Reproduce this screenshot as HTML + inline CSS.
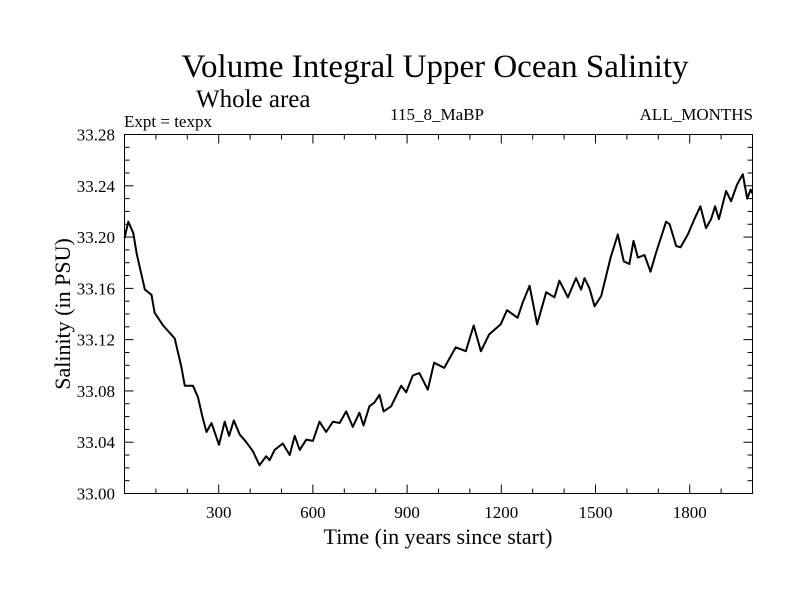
<!DOCTYPE html>
<html><head><meta charset="utf-8"><style>
body{margin:0;background:#fff;}
svg text{font-family:"Liberation Serif",serif;fill:#000;}
</style></head><body>
<svg id="chart" width="800" height="600" xmlns="http://www.w3.org/2000/svg">
<text x="435" y="77" font-size="33" text-anchor="middle">Volume Integral Upper Ocean Salinity</text>
<text x="196" y="107" font-size="25">Whole area</text>
<text x="124" y="127" font-size="17">Expt = texpx</text>
<text x="437" y="120" font-size="17" text-anchor="middle">115_8_MaBP</text>
<text x="753" y="120" font-size="17" text-anchor="end">ALL_MONTHS</text>
<text x="438" y="544" font-size="22" text-anchor="middle">Time (in years since start)</text>
<text transform="translate(70,314) rotate(-90)" font-size="22" text-anchor="middle">Salinity (in PSU)</text>
<g id="axes"></g>
<path id="line" fill="none" stroke="#000" stroke-width="2" stroke-linejoin="round"/>
<rect x="124.5" y="134.5" width="628" height="359" fill="none" stroke="#000" stroke-width="1"/>
</svg>
<script>
const years=[0,12,28,39,49,65,86,96,123,160,181,192,218,234,248,261,277,301,319,333,348,367,388,409,430,451,462,478,504,526,542,558,579,600,621,642,664,685,706,727,748,761,780,796,812,825,849,881,897,918,939,966,986,1018,1055,1087,1112,1135,1161,1198,1218,1252,1268,1290,1314,1343,1369,1385,1412,1438,1454,1465,1481,1497,1518,1548,1571,1590,1608,1621,1635,1656,1675,1693,1725,1736,1757,1771,1794,1815,1834,1852,1868,1881,1893,1916,1932,1951,1969,1983,1994,2000];
const salinity=[33.199,33.212,33.203,33.187,33.176,33.159,33.155,33.141,33.131,33.121,33.099,33.084,33.084,33.075,33.060,33.048,33.055,33.038,33.056,33.045,33.057,33.046,33.040,33.033,33.022,33.029,33.026,33.034,33.039,33.030,33.045,33.034,33.042,33.041,33.056,33.048,33.056,33.055,33.064,33.052,33.063,33.053,33.068,33.071,33.077,33.064,33.068,33.084,33.079,33.092,33.094,33.081,33.102,33.098,33.114,33.111,33.131,33.111,33.124,33.132,33.143,33.137,33.149,33.162,33.132,33.157,33.153,33.166,33.153,33.168,33.159,33.168,33.160,33.146,33.154,33.184,33.202,33.181,33.179,33.197,33.184,33.186,33.173,33.188,33.212,33.210,33.193,33.192,33.202,33.214,33.224,33.207,33.214,33.224,33.214,33.236,33.228,33.241,33.249,33.230,33.237,33.234];
const xTicks=[300,600,900,1200,1500,1800];
const yTicks=[33.00,33.04,33.08,33.12,33.16,33.20,33.24,33.28];
const X0=124.5,X1=752.5,Y0=493.5,Y1=134.5;
function xs(v){return X0+(v-0)/(2000-0)*(X1-X0);}
function ys(v){return Y0-(v-33.0)/(0.28)*(Y0-Y1);}
const NS="http://www.w3.org/2000/svg";
const axes=document.getElementById('axes');
function mk(tag,attrs){const e=document.createElementNS(NS,tag);for(const k in attrs)e.setAttribute(k,attrs[k]);return e;}
for(let t=100;t<2000;t+=100){
  const major=t%300===0, len=major?9:5, x=xs(t);
  const a=mk('line',{x1:x,x2:x,y1:Y0,y2:Y0-len,stroke:'#000'});
  
  
  axes.appendChild(a);
  const b=mk('line',{x1:x,x2:x,y1:Y1,y2:Y1+len,stroke:'#000'});
  
  
  axes.appendChild(b);
}
xTicks.forEach(t=>{
  const tx=mk('text',{x:xs(t),y:518,'font-size':17,'text-anchor':'middle'});
  tx.textContent=t;
  
  
  axes.appendChild(tx);
});
for(let i=1;i<28;i++){
  const v=33+i*0.01, major=i%4===0, len=major?9:5, y=ys(v);
  const a=mk('line',{x1:X0,x2:X0+len,y1:y,y2:y,stroke:'#000'});
  
  
  axes.appendChild(a);
  const b=mk('line',{x1:X1,x2:X1-len,y1:y,y2:y,stroke:'#000'});
  
  
  axes.appendChild(b);
}
yTicks.forEach(v=>{
  const tx=mk('text',{x:115,y:ys(v)+6,'font-size':17,'text-anchor':'end'});
  tx.textContent=v.toFixed(2);
  
  
  axes.appendChild(tx);
});
let d='';
years.forEach((yr,i)=>{d+=(i?'L':'M')+xs(yr).toFixed(1)+','+ys(salinity[i]).toFixed(1);});
document.getElementById('line').setAttribute('d',d);
</script>
</body></html>
